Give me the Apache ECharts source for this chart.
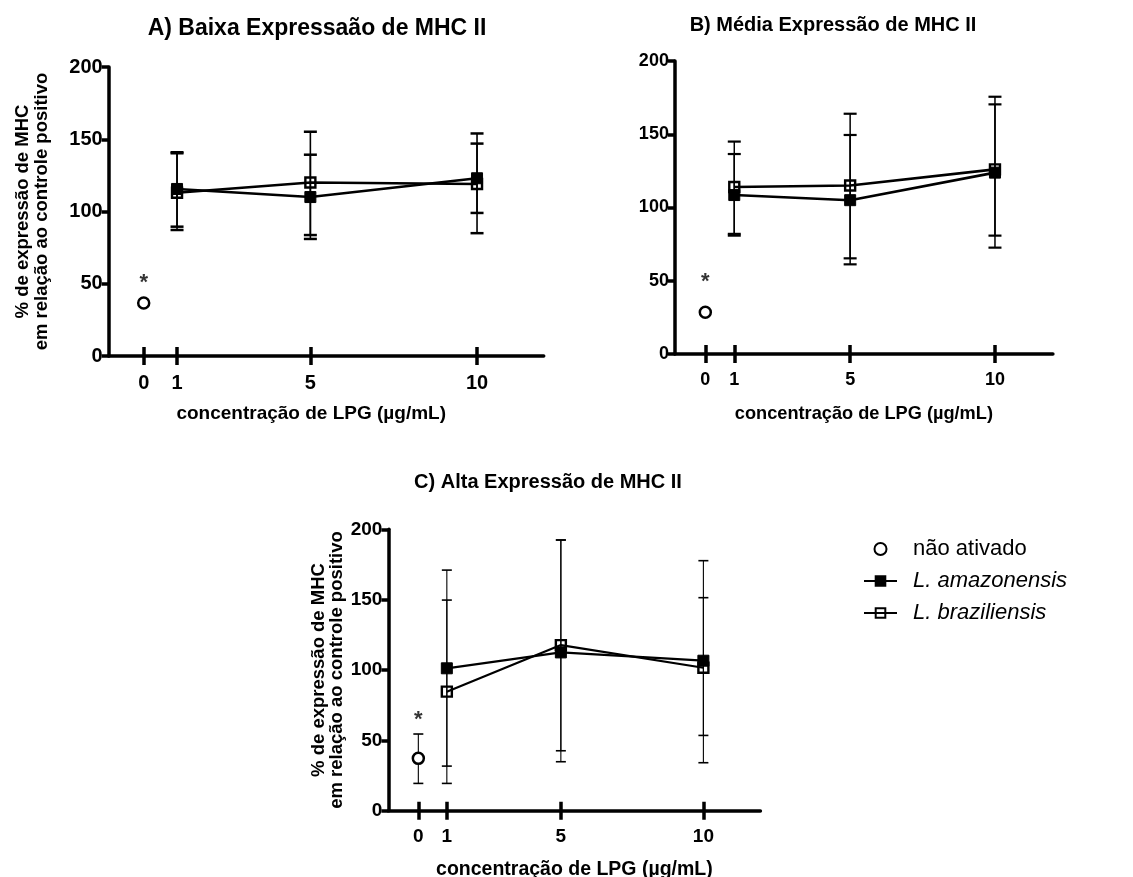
<!DOCTYPE html>
<html>
<head>
<meta charset="utf-8">
<script src="https://cdn.jsdelivr.net/npm/echarts@6/dist/echarts.min.js"></script>
<style>
  html, body { margin: 0; padding: 0; background: #fff; }
  #chart { width: 1133px; height: 877px; }
</style>
</head>
<body>
<div id="chart"></div>
<script>
// ---------------- data ----------------
const panelTitles = ['A) Baixa Expressaão de MHC II', 'B) Média Expressão de MHC II', 'C) Alta Expressão de MHC II'];
const xAxisTitle = 'concentração de LPG (µg/mL)';
const yAxisTitle = '% de expressão de MHC\nem relação ao controle positivo';
const seriesNames = ['não ativado', 'L. amazonensis', 'L. braziliensis'];
const tickDoses = [0, 1, 5, 10];          // x tick labels
const yTicks = [0, 50, 100, 150, 200];    // y tick labels
const doses = [1, 5, 10];                 // LPG concentrations
const ctrlDose = 0;

// não ativado (per panel A, B, C)
const ctrlMean = [36.7, 28.5, 37.2];
const ctrlHi   = [null, null, 54.5];
const ctrlLo   = [null, null, 19.4];
const starLevel = [53, 52, 67];           // position of the "*" significance mark

// L. amazonensis  (rows: panel A, B, C; columns: doses 1, 5, 10)
const amazMean = [[115.6, 110.0, 123.0], [108.5, 105.0, 123.8], [101.2, 112.5, 106.6]];
const amazHi   = [[141.0, 139.3, 147.0], [136.5, 149.5, 175.6], [171.0, 192.4, 177.7]];
const amazLo   = [[ 89.5,  81.0,  99.0], [ 80.8,  61.2,  72.6], [ 31.7,  34.8,  34.1]];

// L. braziliensis
const braziMean = [[113.0, 120.1, 119.0], [114.0, 115.0, 126.0], [ 84.6, 117.7, 101.6]];
const braziHi   = [[140.3, 155.2, 154.0], [145.0, 164.0, 170.4], [149.7, 192.4, 151.4]];
const braziLo   = [[ 87.2,  83.7,  85.0], [ 82.0,  65.3,  80.8], [ 19.4,  42.6,  53.5]];

// ---------------- layout / style ----------------
const FONT = "'Liberation Sans', Arial, Helvetica, sans-serif";
const X_MIN = -1.05, X_MAX = 12;
const grids = [
  { left: 108.7, top: 67,    width: 435, height: 289 },
  { left: 674.9, top: 61,    width: 378, height: 293 },
  { left: 388.4, top: 529.3, width: 372, height: 281.4 }
];
const panelStyle = [
  { title: 23, titleLeft: 312, titleTop: 12,  tick: 20, xName: 19,   xNameGap: 48, xNamePad: 30, yName: 18.5, yNameGap: 58, errW: 1.6, capW: 2.5, capHalf: 6.5, lineW: 2.6 },
  { title: 20, titleLeft: 828, titleTop: 10,  tick: 18, xName: 18.2, xNameGap: 51, xNamePad: 0,  yName: 0,    yNameGap: 58, errW: 1.5, capW: 2.2, capHalf: 6.5, lineW: 2.6 },
  { title: 20, titleLeft: 543, titleTop: 467, tick: 19, xName: 19.5, xNameGap: 49, xNamePad: 0,  yName: 18.5, yNameGap: 42, errW: 1.1, capW: 1.6, capHalf: 5,   lineW: 2.2 }
];
const AXIS_W = 3.5;

const chart = echarts.init(document.getElementById('chart'), null, { renderer: 'canvas' });

const option = {
  backgroundColor: '#fff',
  animation: false,
  title: panelTitles.map((t, p) => ({
    text: t,
    left: panelStyle[p].titleLeft,
    top: panelStyle[p].titleTop,
    textAlign: 'center',
    textStyle: { fontFamily: FONT, fontWeight: 'bold', fontSize: panelStyle[p].title, color: '#000' }
  })),
  legend: {
    data: seriesNames,
    orient: 'vertical',
    left: 863,
    top: 538,
    padding: 0,
    itemWidth: 33,
    itemHeight: 12,
    itemGap: 10,
    selectedMode: false,
    formatter: name => name.startsWith('L.') ? '{i|' + name + '}' : '{n|' + name + '}',
    textStyle: {
      fontFamily: FONT, fontSize: 22, color: '#000', lineHeight: 22, padding: [0, 0, 0, 11],
      rich: {
        i: { fontFamily: FONT, fontSize: 22, fontStyle: 'italic', color: '#000' },
        n: { fontFamily: FONT, fontSize: 22, color: '#000' }
      }
    }
  },
  grid: grids.map(g => Object.assign({ containLabel: false, outerBoundsMode: 'none' }, g)),
  xAxis: [],
  yAxis: [],
  series: []
};

for (let p = 0; p < 3; p++) {
  const st = panelStyle[p];
  // main x axis (line, labels, outward ticks)
  option.xAxis.push({
    type: 'value', gridIndex: p, min: X_MIN, max: X_MAX, position: 'bottom',
    axisLine: { show: true, onZero: false, lineStyle: { color: '#000', width: AXIS_W } },
    axisTick: { show: true, inside: false, length: 9, customValues: tickDoses, lineStyle: { color: '#000', width: AXIS_W } },
    axisLabel: { customValues: tickDoses, fontFamily: FONT, fontWeight: 'bold', fontSize: st.tick, color: '#000', margin: 17 },
    splitLine: { show: false },
    name: xAxisTitle, nameLocation: 'middle', nameGap: st.xNameGap,
    nameTextStyle: { fontFamily: FONT, fontWeight: 'bold', fontSize: st.xName, color: '#000', padding: [0, st.xNamePad, 0, 0] }
  });
  // companion x axis for inward half of the crossing ticks
  option.xAxis.push({
    type: 'value', gridIndex: p, min: X_MIN, max: X_MAX, position: 'bottom',
    axisLine: { show: false, onZero: false },
    axisTick: { show: true, inside: true, length: 9, customValues: tickDoses, lineStyle: { color: '#000', width: AXIS_W } },
    axisLabel: { show: false },
    splitLine: { show: false }
  });
  option.yAxis.push({
    type: 'value', gridIndex: p, min: yTicks[0], max: yTicks[yTicks.length - 1], interval: yTicks[1] - yTicks[0],
    axisLine: { show: true, onZero: false, lineStyle: { color: '#000', width: AXIS_W } },
    axisTick: { show: true, inside: false, length: 7, lineStyle: { color: '#000', width: AXIS_W } },
    axisLabel: { fontFamily: FONT, fontWeight: 'bold', fontSize: st.tick, color: '#000', margin: 6 },
    splitLine: { show: false },
    name: st.yName ? yAxisTitle : '', nameLocation: 'middle', nameRotate: 90, nameGap: st.yNameGap,
    nameTextStyle: { fontFamily: FONT, fontWeight: 'bold', fontSize: st.yName || 12, color: '#000', lineHeight: 18.5, align: 'center' }
  });

  const xi = p * 2;
  // error bars
  const errRows = [];
  doses.forEach((d, i) => {
    errRows.push([d, amazLo[p][i], amazHi[p][i]]);
    errRows.push([d, braziLo[p][i], braziHi[p][i]]);
  });
  if (ctrlHi[p] != null) errRows.push([ctrlDose, ctrlLo[p], ctrlHi[p]]);
  option.series.push({
    type: 'custom', name: 'err' + p, xAxisIndex: xi, yAxisIndex: p, silent: true, z: 2,
    encode: { x: 0, y: [1, 2] },
    data: errRows,
    renderItem: (params, api) => {
      const x = api.value(0), lo = api.value(1), hi = api.value(2);
      const a = api.coord([x, lo]), b = api.coord([x, hi]);
      const h = st.capHalf;
      return {
        type: 'group',
        children: [
          { type: 'line', shape: { x1: a[0], y1: a[1], x2: b[0], y2: b[1] }, style: { stroke: '#000', lineWidth: st.errW } },
          { type: 'line', shape: { x1: a[0] - h, y1: a[1], x2: a[0] + h, y2: a[1] }, style: { stroke: '#000', lineWidth: st.capW } },
          { type: 'line', shape: { x1: b[0] - h, y1: b[1], x2: b[0] + h, y2: b[1] }, style: { stroke: '#000', lineWidth: st.capW } }
        ]
      };
    }
  });
  // L. amazonensis
  option.series.push({
    type: 'line', name: seriesNames[1], xAxisIndex: xi, yAxisIndex: p, z: 3,
    data: doses.map((d, i) => [d, amazMean[p][i]]),
    symbol: 'rect', symbolSize: 11, showSymbol: true,
    itemStyle: { color: '#000', borderColor: '#000', borderWidth: 1 },
    lineStyle: { color: '#000', width: st.lineW },
    emphasis: { disabled: true }, silent: true
  });
  // L. braziliensis
  option.series.push({
    type: 'line', name: seriesNames[2], xAxisIndex: xi, yAxisIndex: p, z: 3,
    data: doses.map((d, i) => [d, braziMean[p][i]]),
    symbol: 'rect', symbolSize: 10, showSymbol: true,
    itemStyle: { color: 'rgba(255,255,255,0)', borderColor: '#000', borderWidth: 2.4 },
    lineStyle: { color: '#000', width: st.lineW },
    emphasis: { disabled: true }, silent: true
  });
  // não ativado
  option.series.push({
    type: 'scatter', name: seriesNames[0], xAxisIndex: xi, yAxisIndex: p, z: 4,
    data: [[ctrlDose, ctrlMean[p]]],
    symbol: 'circle', symbolSize: 11,
    itemStyle: { color: '#fff', borderColor: '#000', borderWidth: 2.5, opacity: 1 },
    emphasis: { disabled: true }, silent: true
  });
  // significance star
  option.series.push({
    type: 'scatter', name: 'star' + p, xAxisIndex: xi, yAxisIndex: p, z: 4,
    data: [[ctrlDose, starLevel[p]]],
    symbol: 'circle', symbolSize: 0,
    label: { show: true, position: 'inside', formatter: '*', offset: [0, 4], fontFamily: FONT, fontWeight: 'bold', fontSize: 22, color: '#000' },
    emphasis: { disabled: true }, silent: true
  });
}

chart.setOption(option);
</script>
</body>
</html>
